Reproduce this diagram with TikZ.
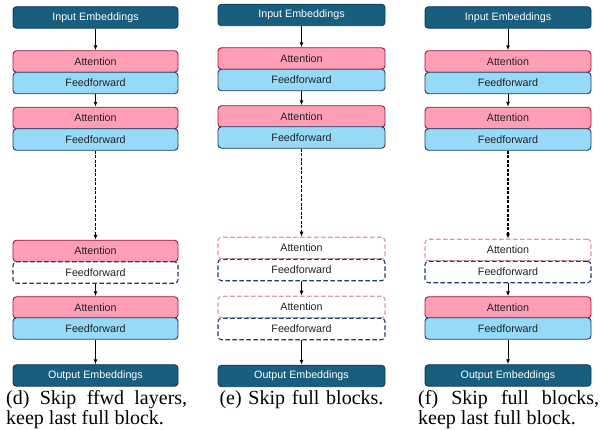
\documentclass[tikz,border=0pt]{standalone}
\usepackage{fontspec}
\setmainfont{Liberation Serif}
\newfontfamily\boxfont{Liberation Sans}
\usetikzlibrary{arrows.meta}
\definecolor{embfill}{HTML}{175E7F}
\definecolor{embdraw}{HTML}{0E3B52}
\definecolor{attfill}{HTML}{FF9EB4}
\definecolor{attdraw}{HTML}{A0163F}
\definecolor{fffill}{HTML}{97DAF7}
\definecolor{ffdraw}{HTML}{1D3A5E}
\definecolor{skattdraw}{HTML}{E595AB}
\definecolor{skffdraw}{HTML}{22396B}
\definecolor{txt}{HTML}{222222}
\begin{document}
\begin{tikzpicture}[x=1pt,y=-1pt,
  blk/.style={draw, rounded corners=3.5pt, inner sep=0pt, minimum height=21.5pt,
    font=\boxfont\fontsize{10.7}{12}\selectfont, line width=0.9pt},
  emb/.style={blk, fill=embfill, draw=embdraw, text=white},
  att/.style={blk, fill=attfill, draw=attdraw, text=txt},
  ffw/.style={blk, fill=fffill, draw=ffdraw, text=txt},
  skatt/.style={blk, fill=white, draw=skattdraw, line width=1.1pt, dash pattern=on 4.5pt off 2.5pt, text=txt},
  skffw/.style={blk, fill=white, draw=skffdraw, line width=1.1pt, dash pattern=on 4.5pt off 2.5pt, text=txt},
  cold/.style={minimum width=165pt},
  cole/.style={minimum width=167pt},
  colf/.style={minimum width=166pt},
  conn/.style={-{Latex[length=5pt,width=4pt]}, line width=1pt, black},
  dconn/.style={conn, line width=1.1pt, dash pattern=on 3pt off 1.5pt},
  captxt/.style={font=\fontsize{20}{20}\selectfont, text width=181pt, inner sep=0pt}
]
\useasboundingbox (0,0) rectangle (600,430);

% ---------- column (d) ----------
\node[emb,cold] (dIn) at (95.5,17.5) {Input Embeddings};
\node[att,cold] (dA1) at (95.5,61.5) {Attention};
\node[ffw,cold] (dF1) at (95.5,83) {Feedforward};
\node[att,cold] (dA2) at (95.5,118) {Attention};
\node[ffw,cold] (dF2) at (95.5,139.5) {Feedforward};
\node[att,cold] (dA3) at (95.5,251) {Attention};
\node[skffw,cold] (dF3) at (95.5,272.5) {Feedforward};
\node[att,cold] (dA4) at (95.5,307.5) {Attention};
\node[ffw,cold] (dF4) at (95.5,328.5) {Feedforward};
\node[emb,cold] (dOut) at (95.5,375.5) {Output Embeddings};
\draw[conn] (dIn) -- (dA1);
\draw[conn] (dF1) -- (dA2);
\draw[dconn] (dF2) -- (dA3);
\draw[conn] (dF3) -- (dA4);
\draw[conn] (dF4) -- (dOut);
\node[captxt, align=justify, anchor=base west] (dCap) at (6,405) {(d) Skip ffwd layers, keep last full block.};

% ---------- column (e) ----------
\node[emb,cole] (eIn) at (301.5,15) {Input Embeddings};
\node[att,cole] (eA1) at (301.5,58.5) {Attention};
\node[ffw,cole] (eF1) at (301.5,80) {Feedforward};
\node[att,cole] (eA2) at (301.5,116.5) {Attention};
\node[ffw,cole] (eF2) at (301.5,137.5) {Feedforward};
\node[skatt,cole] (eA3) at (301.5,248) {Attention};
\node[skffw,cole] (eF3) at (301.5,270) {Feedforward};
\node[skatt,cole] (eA4) at (301.5,307) {Attention};
\node[skffw,cole] (eF4) at (301.5,329) {Feedforward};
\node[emb,cole] (eOut) at (301.5,376) {Output Embeddings};
\draw[conn] (eIn) -- (eA1);
\draw[conn] (eF1) -- (eA2);
\draw[dconn] (eF2) -- (eA3);
\draw[conn] (eF3) -- (eA4);
\draw[conn] (eF4) -- (eOut);
\node[captxt, align=center, anchor=base] (eCap) at (301.5,404) {(e) Skip full blocks.};

% ---------- column (f) ----------
\node[emb,colf] (fIn) at (508,17.5) {Input Embeddings};
\node[att,colf] (fA1) at (508,61.5) {Attention};
\node[ffw,colf] (fF1) at (508,83) {Feedforward};
\node[att,colf] (fA2) at (508,118) {Attention};
\node[ffw,colf] (fF2) at (508,139.5) {Feedforward};
\node[skatt,colf] (fA3) at (508,250) {Attention};
\node[skffw,colf] (fF3) at (508,272) {Feedforward};
\node[att,colf] (fA4) at (508,307.5) {Attention};
\node[ffw,colf] (fF4) at (508,328.5) {Feedforward};
\node[emb,colf] (fOut) at (508,375.5) {Output Embeddings};
\draw[conn] (fIn) -- (fA1);
\draw[conn] (fF1) -- (fA2);
\draw[dconn] (fF2) -- (fA3);
\draw[conn] (fF3) -- (fA4);
\draw[conn] (fF4) -- (fOut);
\node[captxt, align=justify, anchor=base west] (fCap) at (418,405) {(f) Skip full blocks, keep last full block.};
\end{tikzpicture}
\end{document}
